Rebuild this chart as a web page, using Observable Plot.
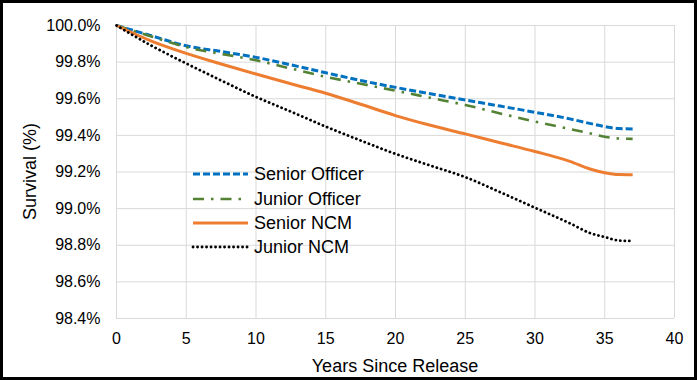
<!DOCTYPE html>
<html><head><meta charset="utf-8">
<script src="https://cdn.jsdelivr.net/npm/d3@7"></script>
<script src="https://cdn.jsdelivr.net/npm/@observablehq/plot@0.6"></script>
<style>body{margin:0;background:#fff} svg{display:block}</style>
</head><body><div id="chart"></div>
<script>
const years = [0, 2.5, 5, 7.5, 10, 12.5, 15, 17.5, 20, 22.5, 25, 27.5, 30, 32.5, 34, 35, 36, 37];
const seniorOfficer = [100, 99.944, 99.889, 99.858, 99.826, 99.785, 99.742, 99.70, 99.662, 99.627, 99.593, 99.56, 99.526, 99.49, 99.464, 99.448, 99.437, 99.435];
const juniorOfficer = [100, 99.94, 99.882, 99.845, 99.81, 99.765, 99.72, 99.682, 99.644, 99.605, 99.566, 99.52, 99.475, 99.435, 99.41, 99.393, 99.383, 99.381];
const seniorNCM = [100, 99.915, 99.848, 99.79, 99.735, 99.682, 99.63, 99.57, 99.508, 99.455, 99.408, 99.36, 99.312, 99.258, 99.215, 99.196, 99.186, 99.185];
const juniorNCM = [100, 99.89, 99.793, 99.70, 99.61, 99.53, 99.448, 99.372, 99.299, 99.235, 99.172, 99.09, 99.005, 98.92, 98.865, 98.845, 98.826, 98.823];
const seriesNames = ["Senior Officer", "Junior Officer", "Senior NCM", "Junior NCM"];
const xTicks = [0, 5, 10, 15, 20, 25, 30, 35, 40];
const yTicks = [98.4, 98.6, 98.8, 99.0, 99.2, 99.4, 99.6, 99.8, 100.0];
const xTitle = "Years Since Release";
const yTitle = "Survival (%)";

const seriesValues = [seniorOfficer, juniorOfficer, seniorNCM, juniorNCM];
const styles = [
  {stroke: "#0070C0", strokeWidth: 3, strokeDasharray: "7,3", strokeLinecap: "butt"},
  {stroke: "#548235", strokeWidth: 2.6, strokeDasharray: "11,7,2.5,7", strokeLinecap: "butt"},
  {stroke: "#ED7D31", strokeWidth: 3, strokeDasharray: null, strokeLinecap: "butt"},
  {stroke: "#000000", strokeWidth: 2.8, strokeDasharray: "0.1,4.4", strokeLinecap: "round"}
];

const lineMarks = seriesValues.map((vals, k) => {
  const rows = years.map((x, i) => ({x, y: vals[i], series: seriesNames[k]}));
  const s = styles[k];
  const opts = {x: "x", y: "y", stroke: s.stroke, strokeWidth: s.strokeWidth, strokeLinecap: s.strokeLinecap, curve: "monotone-x"};
  if (s.strokeDasharray) opts.strokeDasharray = s.strokeDasharray;
  return Plot.line(rows, opts);
});

const fontFamily = "'Liberation Sans', Arial, sans-serif";
const chart = Plot.plot({
  width: 697, height: 380,
  marginLeft: 116, marginRight: 23, marginTop: 25, marginBottom: 62,
  x: {domain: [0, 40]},
  y: {domain: [98.4, 100]},
  style: {fontFamily, fontSize: "16px", color: "#000", background: "#fff", overflow: "visible"},
  marks: [
    Plot.gridX(xTicks, {stroke: "#d9d9d9", strokeOpacity: 1, strokeWidth: 1}),
    Plot.gridY(yTicks, {stroke: "#d9d9d9", strokeOpacity: 1, strokeWidth: 1}),
    Plot.axisX(xTicks, {tickSize: 0, tickPadding: 14, label: null, fontSize: 16, fill: "#000"}),
    Plot.axisY(yTicks, {tickSize: 0, tickPadding: 16, label: null, fontSize: 16, fill: "#000", tickFormat: d => d.toFixed(1) + "%"}),
    ...lineMarks
  ]
});
document.getElementById("chart").appendChild(chart);

const svg = d3.select(chart);
svg.append("text").attr("x", 395).attr("y", 372).attr("text-anchor", "middle")
  .style("font-size", "18px").attr("fill", "#000").text(xTitle);
svg.append("text").attr("transform", "translate(36,171.5) rotate(-90)").attr("text-anchor", "middle")
  .style("font-size", "18px").attr("fill", "#000").text(yTitle);

const legendRows = [174, 199, 223, 247];
const lg = svg.append("g");
seriesNames.forEach((name, k) => {
  const s = styles[k];
  const ln = lg.append("line").attr("x1", 193).attr("x2", 248).attr("y1", legendRows[k]).attr("y2", legendRows[k])
    .attr("stroke", s.stroke).attr("stroke-width", s.strokeWidth).attr("stroke-linecap", s.strokeLinecap);
  if (s.strokeDasharray) ln.attr("stroke-dasharray", s.strokeDasharray);
  lg.append("text").attr("x", 254).attr("y", legendRows[k]).attr("dy", "0.35em").attr("text-anchor", "start")
    .style("font-size", "18px").attr("fill", "#000").text(name);
});

svg.append("rect").attr("x", 1.5).attr("y", 1.5).attr("width", 694).attr("height", 377)
  .attr("fill", "none").attr("stroke", "#000").attr("stroke-width", 3);
</script>
</body></html>
